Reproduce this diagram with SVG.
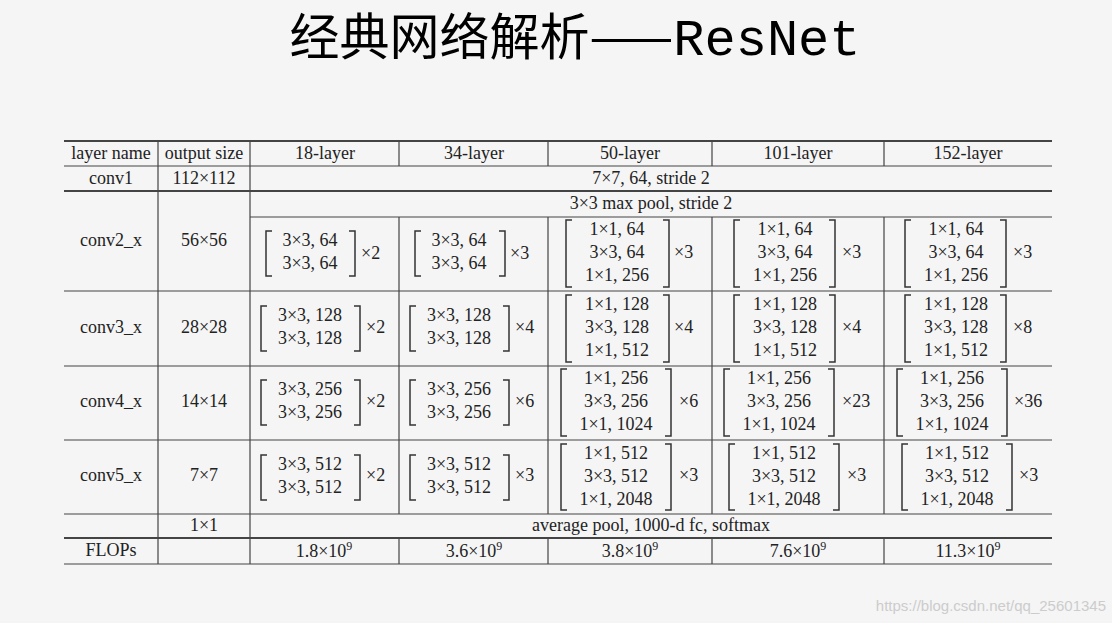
<svg xmlns="http://www.w3.org/2000/svg" width="1112" height="623" viewBox="0 0 1112 623">
<style>
text{font-family:'Liberation Serif','DejaVu Serif',serif;font-size:18px;fill:#222;text-anchor:middle}
text.t{font-family:'Noto Sans CJK SC',sans-serif;font-size:50px;fill:#000}
text.m{text-anchor:start}
.l{stroke:#444;stroke-width:1.2;fill:none}
.k{stroke:#444;stroke-width:2;fill:none}
.b{stroke:#333;stroke-width:1.5;fill:none}
text.w{font-family:'Liberation Sans',sans-serif;font-size:15px;fill:#ccc;text-anchor:end}
</style>
<rect width="1112" height="623" fill="#f5f5f5"/>
<text class="t" x="575" y="55">经典网络解析——<tspan font-family="Liberation Mono,monospace" font-size="52">ResNet</tspan></text>
<g id="grid">
<path class="l" d="M64 166H1052M250 217H1052M64 291H1052M64 366H1052M64 440H1052M64 514H1052M64 564H1052"/>
<path class="k" d="M64 141H1052M64 191H1052M64 538H1052"/>
<path class="l" d="M158 141V564M250 141V564M399 141V166M399 217V514M399 539V564M548 141V166M548 217V514M548 539V564M712 141V166M712 217V514M712 539V564M884 141V166M884 217V514M884 539V564"/>
</g>
<g font-family="Liberation Serif, DejaVu Serif, serif">
<g id="header">
<text x="111" y="159">layer name</text><text x="204" y="159">output size</text>
<text x="325" y="159">18-layer</text><text x="474" y="159">34-layer</text><text x="630" y="159">50-layer</text><text x="798" y="159">101-layer</text><text x="968" y="159">152-layer</text>
</g>
<g id="conv1"><text x="111" y="184">conv1</text><text x="204" y="184">112×112</text><text x="651" y="184">7×7, 64, stride 2</text></g>
<g id="conv2">
<text x="111" y="246">conv2_x</text><text x="204" y="246">56×56</text>
<text x="651" y="209">3×3 max pool, stride 2</text>
<text x="310" y="246">3×3, 64</text><text x="310" y="269">3×3, 64</text><path class="b" d="M272 231H266V276H272M349 231H355V276H349"/><text class="m" x="361" y="259">×2</text>
<text x="459" y="246">3×3, 64</text><text x="459" y="269">3×3, 64</text><path class="b" d="M421 231H415V276H421M499 231H505V276H499"/><text class="m" x="510" y="259">×3</text>
<text x="617" y="235">1×1, 64</text><text x="617" y="258">3×3, 64</text><text x="617" y="281">1×1, 256</text><path class="b" d="M572 220H566V287H572M663 220H669V287H663"/><text class="m" x="674" y="258">×3</text>
<text x="785" y="235">1×1, 64</text><text x="785" y="258">3×3, 64</text><text x="785" y="281">1×1, 256</text><path class="b" d="M740 220H734V287H740M829 220H835V287H829"/><text class="m" x="842" y="258">×3</text>
<text x="956" y="235">1×1, 64</text><text x="956" y="258">3×3, 64</text><text x="956" y="281">1×1, 256</text><path class="b" d="M911 220H905V287H911M1000 220H1006V287H1000"/><text class="m" x="1013" y="258">×3</text>
</g>
<g id="conv3">
<text x="111" y="333">conv3_x</text><text x="204" y="333">28×28</text>
<text x="310" y="321">3×3, 128</text><text x="310" y="344">3×3, 128</text><path class="b" d="M267 306H261V351H267M354 306H360V351H354"/><text class="m" x="366" y="333">×2</text>
<text x="459" y="321">3×3, 128</text><text x="459" y="344">3×3, 128</text><path class="b" d="M416 306H410V351H416M503 306H509V351H503"/><text class="m" x="515" y="333">×4</text>
<text x="617" y="310">1×1, 128</text><text x="617" y="333">3×3, 128</text><text x="617" y="356">1×1, 512</text><path class="b" d="M572 295H566V362H572M663 295H669V362H663"/><text class="m" x="674" y="333">×4</text>
<text x="785" y="310">1×1, 128</text><text x="785" y="333">3×3, 128</text><text x="785" y="356">1×1, 512</text><path class="b" d="M740 295H734V362H740M829 295H835V362H829"/><text class="m" x="842" y="333">×4</text>
<text x="956" y="310">1×1, 128</text><text x="956" y="333">3×3, 128</text><text x="956" y="356">1×1, 512</text><path class="b" d="M911 295H905V362H911M1000 295H1006V362H1000"/><text class="m" x="1013" y="333">×8</text>
</g>
<g id="conv4">
<text x="111" y="407">conv4_x</text><text x="204" y="407">14×14</text>
<text x="310" y="395">3×3, 256</text><text x="310" y="418">3×3, 256</text><path class="b" d="M267 380H261V425H267M354 380H360V425H354"/><text class="m" x="366" y="407">×2</text>
<text x="459" y="395">3×3, 256</text><text x="459" y="418">3×3, 256</text><path class="b" d="M416 380H410V425H416M503 380H509V425H503"/><text class="m" x="515" y="407">×6</text>
<text x="616" y="384">1×1, 256</text><text x="616" y="407">3×3, 256</text><text x="616" y="430">1×1, 1024</text><path class="b" d="M567 369H561V436H567M665 369H671V436H665"/><text class="m" x="679" y="407">×6</text>
<text x="779" y="384">1×1, 256</text><text x="779" y="407">3×3, 256</text><text x="779" y="430">1×1, 1024</text><path class="b" d="M730 369H724V436H730M828 369H834V436H828"/><text class="m" x="842" y="407">×23</text>
<text x="952" y="384">1×1, 256</text><text x="952" y="407">3×3, 256</text><text x="952" y="430">1×1, 1024</text><path class="b" d="M903 369H897V436H903M1001 369H1007V436H1001"/><text class="m" x="1014" y="407">×36</text>
</g>
<g id="conv5">
<text x="111" y="481">conv5_x</text><text x="204" y="481">7×7</text>
<text x="310" y="470">3×3, 512</text><text x="310" y="493">3×3, 512</text><path class="b" d="M267 455H261V500H267M354 455H360V500H354"/><text class="m" x="366" y="481">×2</text>
<text x="459" y="470">3×3, 512</text><text x="459" y="493">3×3, 512</text><path class="b" d="M416 455H410V500H416M503 455H509V500H503"/><text class="m" x="515" y="481">×3</text>
<text x="616" y="459">1×1, 512</text><text x="616" y="482">3×3, 512</text><text x="616" y="505">1×1, 2048</text><path class="b" d="M567 444H561V510H567M665 444H671V510H665"/><text class="m" x="679" y="481">×3</text>
<text x="784" y="459">1×1, 512</text><text x="784" y="482">3×3, 512</text><text x="784" y="505">1×1, 2048</text><path class="b" d="M735 444H729V510H735M833 444H839V510H833"/><text class="m" x="847" y="481">×3</text>
<text x="957" y="459">1×1, 512</text><text x="957" y="482">3×3, 512</text><text x="957" y="505">1×1, 2048</text><path class="b" d="M908 444H902V510H908M1006 444H1012V510H1006"/><text class="m" x="1019" y="481">×3</text>
</g>
<g id="pool"><text x="204" y="531">1×1</text><text x="651" y="531">average pool, 1000-d fc, softmax</text></g>
<g id="flops">
<text x="111" y="556">FLOPs</text>
<text x="324" y="557">1.8×10<tspan font-size="12" dy="-7">9</tspan></text>
<text x="474" y="557">3.6×10<tspan font-size="12" dy="-7">9</tspan></text>
<text x="630" y="557">3.8×10<tspan font-size="12" dy="-7">9</tspan></text>
<text x="798" y="557">7.6×10<tspan font-size="12" dy="-7">9</tspan></text>
<text x="968" y="557">11.3×10<tspan font-size="12" dy="-7">9</tspan></text>
</g>
</g>
<text class="w" x="1106" y="611">https://blog.csdn.net/qq_25601345</text>
</svg>
